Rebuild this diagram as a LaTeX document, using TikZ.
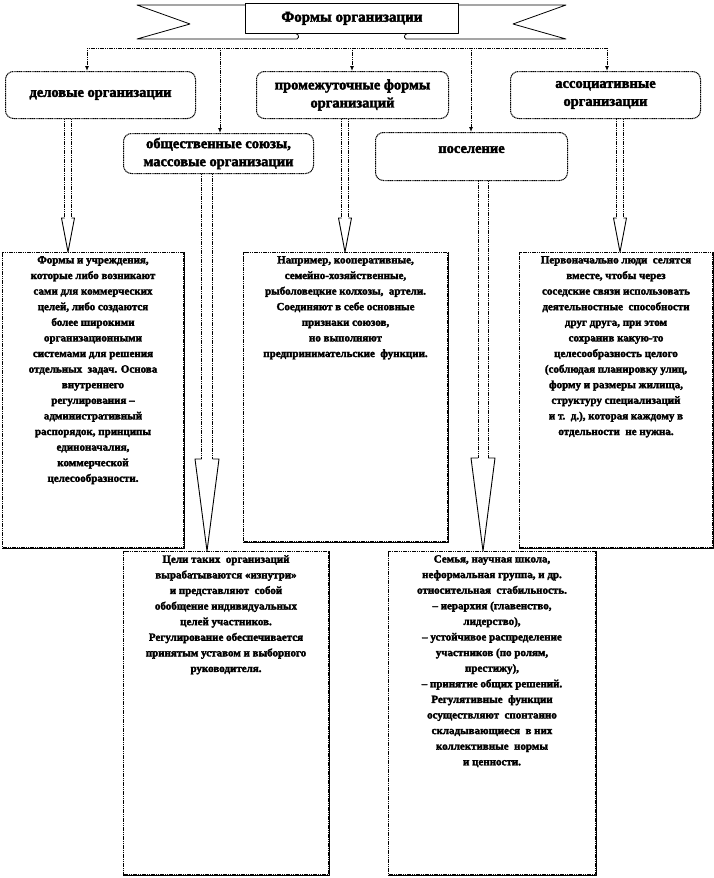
\documentclass[tikz,border=0pt]{standalone}
\usepackage{fontspec}
\setmainfont{Liberation Serif}[BoldFeatures={FakeBold=2.5}]
\usetikzlibrary{calc,positioning,arrows.meta}

% hollow block arrow: start, end, shaft half width, head half width, head length
\newcommand{\hollowarrow}[5]{%
  \draw[shaftline] let \p1=(#1), \p2=(#2) in
    (\x1-#3,\y1) -- (\x1-#3,\y2+#5) (\x1+#3,\y1) -- (\x1+#3,\y2+#5);
  \draw[headline] let \p1=(#1), \p2=(#2) in
    (\x1-#3,\y2+#5) -- (\x1-#4,\y2+#5) -- (\x1,\y2) -- (\x1+#4,\y2+#5) -- (\x1+#3,\y2+#5);
}

\tikzset{
  dotline/.style={dash pattern=on 1.2pt off .6pt,line width=1pt},
  titlebox/.style={draw,fill=white,anchor=north west,inner sep=0pt,
    font=\fontsize{15}{17}\selectfont\bfseries},
  headbox/.style={draw,dotline,rounded corners=8pt,align=center,
    anchor=north west,inner sep=2pt,font=\fontsize{14.5}{18}\selectfont\bfseries},
  detailbox/.style={draw,dotline,anchor=north west,inner sep=0pt},
  detailtext/.style={align=center,anchor=north,inner sep=2pt,
    font=\fontsize{11}{15.6}\selectfont\bfseries},
  tick/.style={dotline,line width=.9pt,-{Latex[length=5pt,width=4pt]}},
  shaftline/.style={dotline,line width=.9pt},
  headline/.style={line width=.9pt},
}

\begin{document}
\begin{tikzpicture}[x=1pt,y=-1pt,line join=round]
  \useasboundingbox (0,0) rectangle (714,878);

  % ribbon tails of the banner
  \draw[line width=.8pt] (245,5) -- (137,5) -- (190,24) -- (137,39) -- (297,39)
    .. controls (300,37) and (299,33) .. (292,33) -- (245,33);
  \draw[line width=.8pt] (458,5) -- (566,5) -- (513,24) -- (566,39) -- (406,39)
    .. controls (403,37) and (404,33) .. (411,33) -- (458,33);
  \node[titlebox,line width=.8pt,minimum width=213,minimum height=30] (title) at (245,3) {Формы организации};

  % first and second row
  \node[headbox,minimum width=190,minimum height=47] (del) at (5,71) {деловые организации};
  \node[headbox,minimum width=192,minimum height=47] (prom) at (256,71) {промежуточные формы\\организаций};
  \node[headbox,minimum width=190,minimum height=47] (assoc) at (510,71) {ассоциативные\\организации};
  \node[headbox,minimum width=190,minimum height=40] (obsh) at (123,133) {общественные союзы,\\массовые организации};
  \node[headbox,minimum width=192,minimum height=48,text depth=14pt] (pos) at (375,132) {поселение};

  % bus with drops
  \coordinate (t1) at (87,48);
  \coordinate (t2) at (220,48);
  \coordinate (t3) at (352,48);
  \coordinate (t4) at (471,48);
  \coordinate (t5) at (607,48);
  \draw[dotline,line width=.9pt] (t1) -- (t5);
  \draw[tick] (t1) -- (t1 |- del.north);
  \draw[tick] (t2) -- (t2 |- obsh.north);
  \draw[tick] (t3) -- (t3 |- prom.north);
  \draw[tick] (t4) -- (t4 |- pos.north);
  \draw[tick] (t5) -- (t5 |- assoc.north);

  % detail boxes
  \node[detailbox,minimum width=181,minimum height=295] (forms) at (2,252) {};
  \node[detailbox,minimum width=204,minimum height=289] (napr) at (243,252) {};
  \node[detailbox,minimum width=193,minimum height=295] (perv) at (519,252) {};
  \node[detailbox,minimum width=205,minimum height=323] (celi) at (123,551) {};
  \node[detailbox,minimum width=207,minimum height=323] (semya) at (388,551) {};
  \foreach \b in {forms,napr,perv,celi,semya}
    \draw[line width=.6pt] (\b.north east) -- (\b.south east) -- (\b.south west);

  \node[detailtext,below=2pt] at (forms.north) {Формы и учреждения,\\которые либо возникают\\сами для коммерческих\\целей, либо создаются\\более широкими\\организационными\\системами для решения\\отдельных\ \ задач. Основа\\внутреннего\\регулирования --\\административный\\распорядок, принципы\\единоначалия,\\коммерческой\\целесообразности.};
  \node[detailtext,below=2pt] at (napr.north) {Например, кооперативные,\\семейно-хозяйственные,\\рыболовецкие колхозы,\ \ артели.\\Соединяют в себе основные\\признаки союзов,\\но выполняют\\предпринимательские\ \ функции.};
  \node[detailtext,below=2pt] at (perv.north) {Первоначально люди\ \ селятся\\вместе, чтобы через\\соседские связи использовать\\деятельностные\ \ способности\\друг друга, при этом\\сохранив какую-то\\целесообразность целого\\(соблюдая планировку улиц,\\форму и размеры жилища,\\структуру специализаций\\и т.\ \ д.), которая каждому в\\отдельности\ \ не нужна.};
  \node[detailtext,below=2pt] at (celi.north) {Цели таких\ \ организаций\\вырабатываются «изнутри»\\и представляют\ \ собой\\обобщение индивидуальных\\целей участников.\\Регулирование обеспечивается\\принятым уставом и выборного\\руководителя.};
  \node[detailtext,below=2pt] at (semya.north) {Семья, научная школа,\\неформальная группа, и др.\\относительная\ \ стабильность.\\-- иерархия (главенство,\\лидерство),\\-- устойчивое распределение\\участников (по ролям,\\престижу),\\-- принятие общих решений.\\Регулятивные\ \ функции\\осуществляют\ \ спонтанно\\складывающиеся\ \ в них\\коллективные\ \ нормы\\и ценности.};

  % block arrows
  \coordinate (a1) at (68,0);
  \coordinate (a2) at (207,0);
  \coordinate (a3) at (345,0);
  \coordinate (a4) at (483,0);
  \coordinate (a5) at (620,0);
  \hollowarrow{del.south -| a1}{forms.north -| a1}{3.5}{6.5}{34}
  \hollowarrow{prom.south -| a3}{napr.north -| a3}{3.5}{6.5}{34}
  \hollowarrow{assoc.south -| a5}{perv.north -| a5}{3.5}{6.5}{34}
  \hollowarrow{obsh.south -| a2}{celi.north -| a2}{5.5}{12}{92}
  \hollowarrow{pos.south -| a4}{semya.north -| a4}{5}{12}{93}
\end{tikzpicture}
\end{document}
